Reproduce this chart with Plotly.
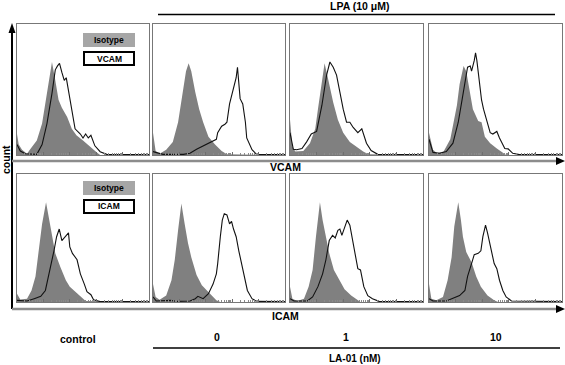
import math
import plotly.graph_objects as go

W, H = 565, 365

# ---- data: x = position on log fluorescence axis (0..1 of axis), y = relative count ----
# Row 1: VCAM ; panels: control, LA-01 0, 1, 10 nM
vc_ctrl_iso_x = [0, 0.013, 0.038, 0.076, 0.10, 0.15, 0.19, 0.21, 0.24, 0.265, 0.29, 0.315, 0.34, 0.38, 0.415, 0.45, 0.50, 0.555, 0.605, 0.63, 1.0]
vc_ctrl_iso_y = [0.16, 0.08, 0.04, 0.01, 0.044, 0.11, 0.24, 0.36, 0.54, 0.71, 0.57, 0.42, 0.36, 0.29, 0.20, 0.15, 0.11, 0.06, 0.02, 0, 0]
vc_ctrl_smp_x = [0, 0.025, 0.063, 0.15, 0.19, 0.227, 0.265, 0.29, 0.307, 0.322, 0.34, 0.358, 0.373, 0.39, 0.415, 0.44, 0.48, 0.50, 0.52, 0.54, 0.56, 0.59, 0.63, 0.68, 1.0]
vc_ctrl_smp_y = [0.08, 0.03, 0.01, 0.005, 0.08, 0.24, 0.47, 0.65, 0.68, 0.70, 0.63, 0.57, 0.59, 0.49, 0.34, 0.20, 0.16, 0.13, 0.16, 0.13, 0.15, 0.07, 0.025, 0.005, 0.003]

vc_0_iso_x = [0, 0.02, 0.05, 0.10, 0.15, 0.19, 0.23, 0.25, 0.27, 0.29, 0.32, 0.35, 0.38, 0.42, 0.47, 0.52, 0.56, 1.0]
vc_0_iso_y = [0.17, 0.03, 0.01, 0.04, 0.10, 0.25, 0.51, 0.64, 0.70, 0.64, 0.48, 0.35, 0.25, 0.14, 0.08, 0.03, 0.005, 0]
vc_0_smp_x = [0, 0.076, 0.23, 0.28, 0.33, 0.38, 0.43, 0.48, 0.49, 0.52, 0.545, 0.56, 0.58, 0.60, 0.63, 0.64, 0.65, 0.66, 0.68, 0.70, 0.71, 0.75, 0.785, 1.0]
vc_0_smp_y = [0.026, 0.005, 0.005, 0.013, 0.044, 0.07, 0.10, 0.12, 0.17, 0.22, 0.235, 0.25, 0.39, 0.48, 0.59, 0.67, 0.57, 0.43, 0.39, 0.25, 0.13, 0.04, 0.005, 0.003]

vc_1_iso_x = [0, 0.018, 0.04, 0.10, 0.15, 0.19, 0.21, 0.24, 0.26, 0.28, 0.30, 0.325, 0.36, 0.40, 0.45, 0.50, 0.55, 0.59, 1.0]
vc_1_iso_y = [0.27, 0.065, 0.026, 0.03, 0.09, 0.20, 0.35, 0.54, 0.70, 0.61, 0.51, 0.40, 0.27, 0.17, 0.10, 0.065, 0.026, 0.005, 0]
vc_1_smp_x = [0, 0.025, 0.05, 0.09, 0.125, 0.16, 0.20, 0.24, 0.275, 0.30, 0.325, 0.35, 0.375, 0.40, 0.425, 0.45, 0.475, 0.51, 0.54, 0.575, 0.61, 0.66, 1.0]
vc_1_smp_y = [0.17, 0.044, 0.04, 0.05, 0.10, 0.16, 0.18, 0.38, 0.61, 0.71, 0.67, 0.61, 0.48, 0.35, 0.25, 0.25, 0.21, 0.17, 0.20, 0.09, 0.034, 0.005, 0.003]

vc_10_iso_x = [0, 0.03, 0.06, 0.11, 0.16, 0.18, 0.21, 0.23, 0.26, 0.28, 0.31, 0.33, 0.37, 0.395, 0.42, 0.46, 0.51, 0.56, 0.58, 1.0]
vc_10_iso_y = [0.17, 0.04, 0.013, 0.026, 0.12, 0.22, 0.38, 0.54, 0.68, 0.64, 0.48, 0.35, 0.26, 0.25, 0.14, 0.09, 0.05, 0.013, 0, 0]
vc_10_smp_x = [0, 0.03, 0.08, 0.13, 0.18, 0.22, 0.245, 0.27, 0.29, 0.31, 0.32, 0.34, 0.35, 0.36, 0.38, 0.395, 0.41, 0.43, 0.46, 0.48, 0.51, 0.53, 0.57, 0.595, 0.63, 0.68, 1.0]
vc_10_smp_y = [0.12, 0.02, 0.013, 0.026, 0.09, 0.25, 0.40, 0.56, 0.67, 0.68, 0.64, 0.72, 0.78, 0.72, 0.56, 0.42, 0.35, 0.27, 0.17, 0.16, 0.18, 0.13, 0.05, 0.047, 0.013, 0.003, 0.003]

# Row 2: ICAM ; panels: control, LA-01 0, 1, 10 nM
ic_ctrl_iso_x = [0, 0.025, 0.076, 0.11, 0.14, 0.165, 0.19, 0.22, 0.24, 0.27, 0.29, 0.33, 0.37, 0.40, 0.44, 0.48, 0.52, 1.0]
ic_ctrl_iso_y = [0.065, 0.02, 0.026, 0.09, 0.20, 0.40, 0.61, 0.78, 0.67, 0.51, 0.38, 0.27, 0.17, 0.12, 0.08, 0.04, 0.008, 0]
ic_ctrl_smp_x = [0, 0.076, 0.13, 0.18, 0.215, 0.25, 0.28, 0.30, 0.32, 0.34, 0.37, 0.39, 0.40, 0.42, 0.455, 0.48, 0.51, 0.53, 0.56, 0.58, 0.63, 1.0]
ic_ctrl_smp_y = [0.013, 0.008, 0.026, 0.044, 0.09, 0.25, 0.40, 0.51, 0.57, 0.48, 0.52, 0.54, 0.43, 0.38, 0.33, 0.22, 0.14, 0.08, 0.057, 0.018, 0.003, 0.003]

ic_0_iso_x = [0, 0.02, 0.05, 0.10, 0.14, 0.165, 0.19, 0.215, 0.24, 0.265, 0.29, 0.33, 0.37, 0.405, 0.44, 0.48, 0.51, 1.0]
ic_0_iso_y = [0.14, 0.04, 0.018, 0.05, 0.17, 0.33, 0.56, 0.77, 0.61, 0.46, 0.35, 0.21, 0.13, 0.09, 0.05, 0.013, 0, 0]
ic_0_smp_x = [0, 0.025, 0.13, 0.18, 0.28, 0.32, 0.34, 0.38, 0.42, 0.455, 0.48, 0.49, 0.51, 0.525, 0.54, 0.56, 0.58, 0.595, 0.61, 0.63, 0.65, 0.67, 0.69, 0.715, 0.75, 0.785, 1.0]
ic_0_smp_y = [0.04, 0.008, 0.013, 0.005, 0.008, 0.026, 0.044, 0.026, 0.065, 0.14, 0.22, 0.30, 0.51, 0.64, 0.69, 0.68, 0.61, 0.63, 0.57, 0.51, 0.40, 0.30, 0.20, 0.09, 0.026, 0.005, 0.003]

ic_1_iso_x = [0, 0.018, 0.055, 0.105, 0.14, 0.17, 0.195, 0.225, 0.245, 0.27, 0.295, 0.33, 0.37, 0.41, 0.46, 0.51, 0.53, 1.0]
ic_1_iso_y = [0.12, 0.026, 0.008, 0.026, 0.12, 0.25, 0.51, 0.78, 0.64, 0.51, 0.38, 0.25, 0.17, 0.10, 0.05, 0.013, 0, 0]
ic_1_smp_x = [0, 0.03, 0.13, 0.17, 0.21, 0.245, 0.27, 0.295, 0.32, 0.34, 0.36, 0.375, 0.39, 0.41, 0.43, 0.45, 0.47, 0.49, 0.51, 0.53, 0.555, 0.585, 0.62, 0.67, 1.0]
ic_1_smp_y = [0.026, 0.008, 0.008, 0.04, 0.12, 0.22, 0.33, 0.48, 0.52, 0.50, 0.56, 0.57, 0.52, 0.59, 0.64, 0.60, 0.48, 0.35, 0.26, 0.25, 0.12, 0.05, 0.026, 0.005, 0.003]

ic_10_iso_x = [0, 0.018, 0.055, 0.105, 0.14, 0.17, 0.19, 0.22, 0.24, 0.255, 0.28, 0.32, 0.355, 0.39, 0.44, 0.49, 0.52, 1.0]
ic_10_iso_y = [0.14, 0.026, 0.013, 0.04, 0.17, 0.35, 0.59, 0.78, 0.64, 0.51, 0.39, 0.31, 0.20, 0.12, 0.05, 0.013, 0, 0]
ic_10_smp_x = [0, 0.03, 0.13, 0.18, 0.23, 0.27, 0.29, 0.32, 0.34, 0.37, 0.39, 0.405, 0.425, 0.44, 0.47, 0.49, 0.51, 0.53, 0.555, 0.58, 0.62, 1.0]
ic_10_smp_y = [0.026, 0.008, 0.008, 0.026, 0.05, 0.09, 0.20, 0.30, 0.37, 0.38, 0.40, 0.51, 0.60, 0.54, 0.40, 0.30, 0.26, 0.17, 0.09, 0.04, 0.008, 0.003]

panels = [
    (vc_ctrl_iso_x, vc_ctrl_iso_y, vc_ctrl_smp_x, vc_ctrl_smp_y),
    (vc_0_iso_x, vc_0_iso_y, vc_0_smp_x, vc_0_smp_y),
    (vc_1_iso_x, vc_1_iso_y, vc_1_smp_x, vc_1_smp_y),
    (vc_10_iso_x, vc_10_iso_y, vc_10_smp_x, vc_10_smp_y),
    (ic_ctrl_iso_x, ic_ctrl_iso_y, ic_ctrl_smp_x, ic_ctrl_smp_y),
    (ic_0_iso_x, ic_0_iso_y, ic_0_smp_x, ic_0_smp_y),
    (ic_1_iso_x, ic_1_iso_y, ic_1_smp_x, ic_1_smp_y),
    (ic_10_iso_x, ic_10_iso_y, ic_10_smp_x, ic_10_smp_y),
]

dose_labels = ["0", "1", "10"]
group_label = "control"
markers = ["VCAM", "ICAM"]

# ---- layout geometry (pixels) ----
col_px = [(17, 149), (153, 285), (290, 423), (429, 562)]
row_px = [(24, 155), (174, 302)]

def px(x):
    return x / W

def py(y):
    return 1 - y / H

# log-decade ticks along the bottom
n_dec = 5
major = [i / n_dec for i in range(n_dec + 1)]
minor = [(d + math.log10(k)) / n_dec for d in range(n_dec) for k in range(2, 10)]

fig = go.Figure()
layout = {}
for i, (ix, iy, sx, sy) in enumerate(panels):
    r, c = divmod(i, 4)
    n = i + 1
    xa = "x" if n == 1 else f"x{n}"
    ya = "y" if n == 1 else f"y{n}"
    fig.add_trace(go.Scatter(x=ix, y=iy, xaxis=xa, yaxis=ya, mode="lines",
                             line=dict(width=0, color="#808080"), fill="tozeroy",
                             fillcolor="#808080", showlegend=False, hoverinfo="skip"))
    fig.add_trace(go.Scatter(x=sx, y=sy, xaxis=xa, yaxis=ya, mode="lines",
                             line=dict(width=1.1, color="#111111"),
                             showlegend=False, hoverinfo="skip"))
    x0, x1 = col_px[c]
    y0, y1 = row_px[r]
    layout["xaxis" if n == 1 else f"xaxis{n}"] = dict(
        domain=[px(x0), px(x1)], range=[0, 1], anchor=ya,
        showgrid=False, zeroline=False, showline=True, mirror=True,
        linecolor="#777777", linewidth=1, tickmode="array", tickvals=major,
        showticklabels=False, ticks="inside", ticklen=3, tickcolor="#6e6e6e", tickwidth=1,
        minor=dict(tickmode="array", tickvals=minor, ticks="inside", ticklen=2,
                   tickcolor="#8a8a8a", tickwidth=1, showgrid=False),
        fixedrange=True)
    layout["yaxis" if n == 1 else f"yaxis{n}"] = dict(
        domain=[py(y1), py(y0)], range=[0, 1], anchor=xa,
        showgrid=False, zeroline=False, showline=True, mirror=True,
        linecolor="#777777", linewidth=1, showticklabels=False, ticks="",
        fixedrange=True)

shapes = []
# vertical "count" axis with arrow
shapes.append(dict(type="line", xref="paper", yref="paper", x0=px(12), x1=px(12),
                   y0=py(30), y1=py(309), line=dict(color="black", width=2)))
shapes.append(dict(type="path", xref="paper", yref="paper",
                   path=f"M {px(8.5)} {py(33)} L {px(15.5)} {py(33)} L {px(12)} {py(23)} Z",
                   fillcolor="black", line=dict(width=0)))
# horizontal axes with arrows
for yl in (161, 309):
    shapes.append(dict(type="line", xref="paper", yref="paper", x0=px(12), x1=px(557),
                       y0=py(yl), y1=py(yl), line=dict(color="#8c8c8c", width=2.5)))
    shapes.append(dict(type="path", xref="paper", yref="paper",
                       path=f"M {px(556)} {py(yl-4)} L {px(556)} {py(yl+4)} L {px(565)} {py(yl)} Z",
                       fillcolor="black", line=dict(width=0)))
# group bracket lines
shapes.append(dict(type="line", xref="paper", yref="paper", x0=px(158), x1=px(555),
                   y0=py(14.5), y1=py(14.5), line=dict(color="black", width=1.5)))
shapes.append(dict(type="line", xref="paper", yref="paper", x0=px(153), x1=px(560),
                   y0=py(348), y1=py(348), line=dict(color="black", width=1.5)))

# legend boxes in control panels
leg = [((33, 47), (52, 65), "VCAM"), ((181, 195), (200, 213), "ICAM")]
annotations = []
font_b = dict(family="Liberation Sans, Arial, sans-serif", color="black")
for (iy0, iy1), (sy0, sy1), name in leg:
    shapes.append(dict(type="rect", xref="paper", yref="paper", x0=px(83), x1=px(135),
                       y0=py(iy1), y1=py(iy0), fillcolor="#a6a6a6", line=dict(width=0)))
    shapes.append(dict(type="rect", xref="paper", yref="paper", x0=px(84), x1=px(134),
                       y0=py(sy1), y1=py(sy0), fillcolor="white", line=dict(color="black", width=2)))
    annotations.append(dict(x=px(109), y=py((iy0 + iy1) / 2), xref="paper", yref="paper",
                            text="<b>Isotype</b>", showarrow=False, xanchor="center", yanchor="middle",
                            font=dict(size=8.5, **font_b)))
    annotations.append(dict(x=px(109), y=py((sy0 + sy1) / 2), xref="paper", yref="paper",
                            text=f"<b>{name}</b>", showarrow=False, xanchor="center", yanchor="middle",
                            font=dict(size=8.5, **font_b)))

def label(x, y, text, size=10, angle=0):
    annotations.append(dict(x=px(x), y=py(y), xref="paper", yref="paper", text=f"<b>{text}</b>",
                            showarrow=False, xanchor="center", yanchor="middle", textangle=angle,
                            font=dict(size=size, **font_b)))

label(360, 6, "LPA (10 μM)", 10.5)
label(6, 160, "count", 10.5, -90)
label(285, 167, markers[0], 10.5)
label(285, 316, markers[1], 10.5)
label(78, 339, group_label, 10.5)
for xx, t in zip((217, 346, 496), dose_labels):
    label(xx, 337, t, 10.5)
label(355, 358, "LA-01 (nM)", 10)

fig.update_layout(width=W, height=H, margin=dict(l=0, r=0, t=0, b=0),
                  paper_bgcolor="white", plot_bgcolor="white",
                  shapes=shapes, annotations=annotations, **layout)
fig.write_html("out.html", config={"displayModeBar": False},
               post_script="document.body.style.margin='0';document.body.style.overflow='hidden';")
